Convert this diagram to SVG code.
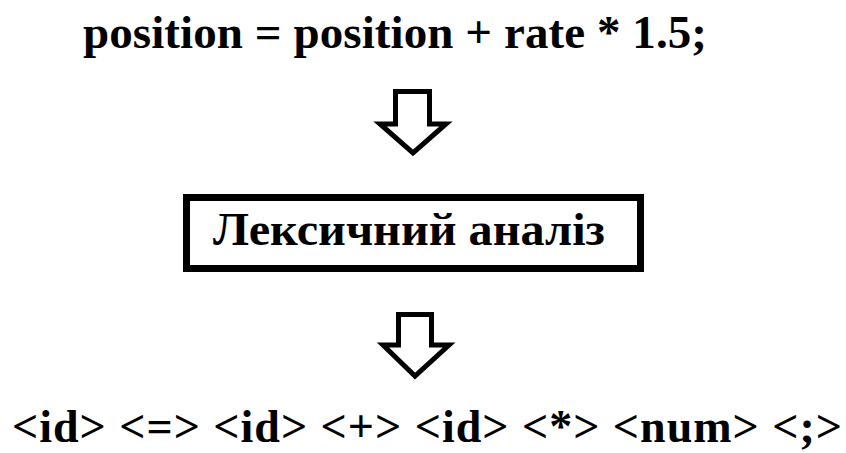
<svg xmlns="http://www.w3.org/2000/svg" width="846" height="453" viewBox="0 0 846 453">
<style>
text{font-family:'Liberation Serif','Times New Roman',serif;font-weight:700;fill:#000}
.arrow{fill:#fff;stroke:#000;stroke-width:5;stroke-linejoin:miter}
</style>
<rect width="846" height="453" fill="#fff"/>
<g id="source">
<text x="83" y="48" font-size="47" textLength="624" lengthAdjust="spacing">position = position + rate * 1.5;</text>
</g>
<g id="lexer">
<rect x="186.5" y="197.5" width="454" height="71" fill="#fff" stroke="#000" stroke-width="7"/>
<text x="213" y="245" font-size="46" textLength="392" lengthAdjust="spacingAndGlyphs">Лексичний аналіз</text>
</g>
<g id="tokens">
<text x="12" y="442" font-size="46" textLength="830" lengthAdjust="spacing">&lt;id&gt; &lt;=&gt; &lt;id&gt; &lt;+&gt; &lt;id&gt; &lt;*&gt; &lt;num&gt; &lt;;&gt;</text>
</g>
<g id="connectors">
<path class="arrow" d="M395.5,91.5 H429.5 V124 H446 L413,153 L380,124 H395.5 Z"/>
<path class="arrow" d="M398.5,314.5 H431.5 V345 H449 L415,376 L383,345 H398.5 Z"/>
</g>
</svg>
